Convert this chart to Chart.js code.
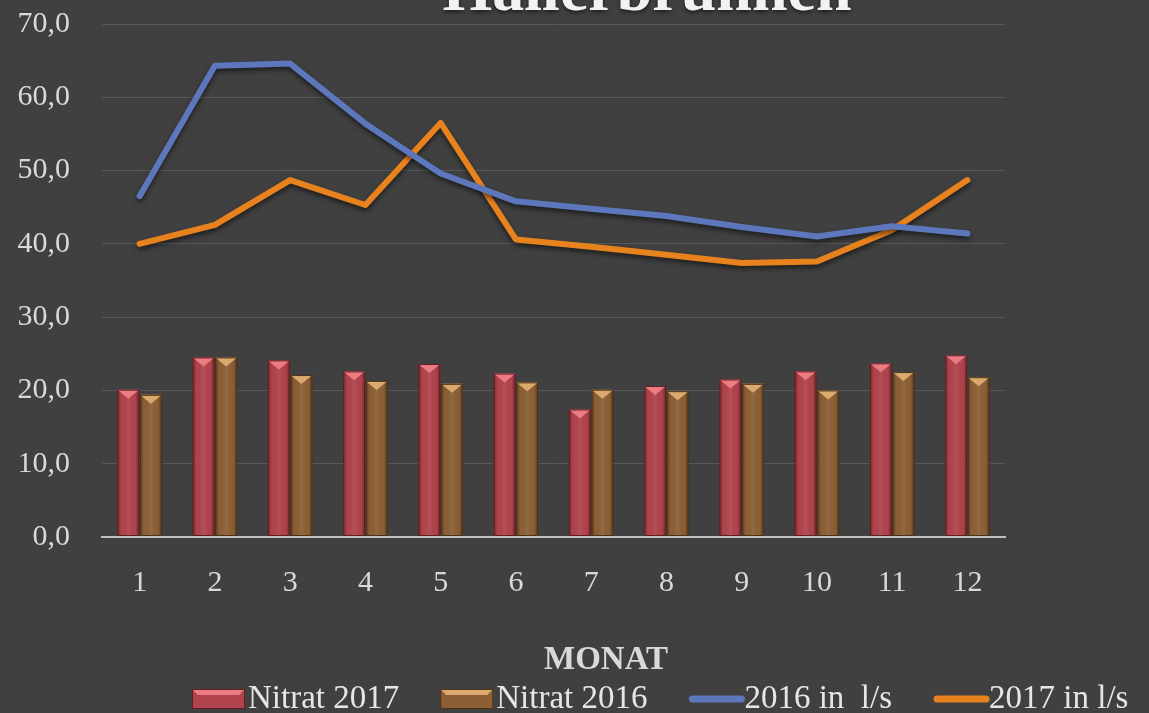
<!DOCTYPE html>
<html>
<head>
<meta charset="utf-8">
<script src="https://cdn.jsdelivr.net/npm/chart.js@4"></script>
<style>
  html, body { margin: 0; padding: 0; background: #404040; }
  #wrap { width: 1149px; height: 713px; }
</style>
</head>
<body>
<div id="wrap"><canvas id="myChart" width="1149" height="713"></canvas></div>
<script>
// Daten
var monate = ['1','2','3','4','5','6','7','8','9','10','11','12'];
var nitrat2017 = [20.1, 24.5, 24.1, 22.6, 23.6, 22.3, 17.4, 20.6, 21.5, 22.6, 23.7, 24.8];
var nitrat2016 = [19.4, 24.5, 22.1, 21.3, 20.9, 21.1, 20.1, 19.9, 20.9, 20.0, 22.5, 21.8];
var schuettung2016 = [46.5, 64.3, 64.6, 56.4, 49.6, 45.8, 44.8, 43.8, 42.3, 41.0, 42.4, 41.4];
var schuettung2017 = [40.0, 42.6, 48.7, 45.3, 56.5, 40.6, 39.6, 38.5, 37.4, 37.6, 41.9, 48.7];
var yTicks = [0, 10, 20, 30, 40, 50, 60, 70];

var serif = "'Liberation Serif', 'DejaVu Serif', serif";
var barLight = ['#ec7b82', '#dcaa6e'];
var barEdge = ['#5e1e22', '#4a3118'];

// Titel oben (angeschnitten wie im Original) und Achsentitel
var textPlugin = {
    id: 'textPlugin',
    afterDraw: function(chart) {
        var ctx = chart.ctx;
        ctx.save();
        ctx.textAlign = 'center';
        ctx.textBaseline = 'alphabetic';
        ctx.shadowColor = 'rgba(0,0,0,0.6)';
        ctx.shadowBlur = 4;
        ctx.shadowOffsetY = 2;
        ctx.font = "bold 64px " + serif;
        ctx.fillStyle = '#f2f2f2';
        ctx.fillText('Hallerbrunnen', 647, 10);
        ctx.shadowColor = 'transparent';
        ctx.font = "bold 33px " + serif;
        ctx.fillStyle = '#d9d9d9';
        ctx.fillText('MONAT', 606, 669);
        ctx.restore();
    }
};

// Legende unten, wie im Original nach rechts verschoben
var legendPlugin = {
    id: 'legendPlugin',
    afterDraw: function(chart) {
        var ctx = chart.ctx;
        ctx.save();
        ctx.font = "33px " + serif;
        ctx.textBaseline = 'alphabetic';
        ctx.textAlign = 'left';
        var x = 192, yMid = 699, base = 708;
        chart.data.datasets.forEach(function(ds, i) {
            if (ds.type === 'line') {
                ctx.strokeStyle = ds.borderColor;
                ctx.lineWidth = 7;
                ctx.lineCap = 'round';
                ctx.beginPath();
                ctx.moveTo(x + 4, yMid);
                ctx.lineTo(x + 53, yMid);
                ctx.stroke();
            } else {
                ctx.fillStyle = ds.backgroundColor;
                ctx.fillRect(x, yMid - 10, 53, 20);
                ctx.fillStyle = barLight[i];
                ctx.beginPath();
                ctx.moveTo(x, yMid - 10);
                ctx.lineTo(x + 53, yMid - 10);
                ctx.lineTo(x + 47, yMid - 4);
                ctx.lineTo(x + 6, yMid - 4);
                ctx.closePath();
                ctx.fill();
                ctx.strokeStyle = barEdge[i];
                ctx.lineWidth = 1;
                ctx.strokeRect(x + 0.5, yMid - 9.5, 52, 19);
            }
            x += 56;
            ctx.fillStyle = '#e6e6e6';
            ctx.fillText(ds.label, x, base);
            x += ctx.measureText(ds.label).width + 41;
        });
        ctx.restore();
    }
};

// Schatten fuer die Linien
var lineShadow = {
    id: 'lineShadow',
    beforeDatasetDraw: function(chart, args) {
        if (args.meta.type !== 'line') return;
        var ctx = chart.ctx;
        ctx.save();
        ctx.shadowColor = 'rgba(0,0,0,0.55)';
        ctx.shadowBlur = 5;
        ctx.shadowOffsetY = 3;
    },
    afterDatasetDraw: function(chart, args) {
        if (args.meta.type !== 'line') return;
        chart.ctx.restore();
    }
};

// Abgeschraegte Saeulenkoepfe
var bevel = {
    id: 'bevel',
    afterDatasetDraw: function(chart, args) {
        if (args.meta.type !== 'bar') return;
        var ctx = chart.ctx;
        var light = barLight[args.index];
        var edge = barEdge[args.index];
        args.meta.data.forEach(function(el) {
            var w = el.width, l = el.x - w / 2, r = el.x + w / 2, t = el.y, b = el.base;
            ctx.save();
            var g = ctx.createLinearGradient(l, 0, r, 0);
            g.addColorStop(0, 'rgba(0,0,0,0.35)');
            g.addColorStop(0.18, 'rgba(0,0,0,0)');
            g.addColorStop(0.5, 'rgba(255,255,255,0.07)');
            g.addColorStop(0.82, 'rgba(0,0,0,0)');
            g.addColorStop(1, 'rgba(0,0,0,0.4)');
            ctx.fillStyle = g;
            ctx.fillRect(l, t, w, b - t);
            ctx.beginPath();
            ctx.moveTo(l, t);
            ctx.lineTo(r, t);
            ctx.lineTo(el.x, t + 9);
            ctx.closePath();
            ctx.fillStyle = light;
            ctx.fill();
            ctx.strokeStyle = edge;
            ctx.lineWidth = 1;
            ctx.strokeRect(l + 0.5, t + 0.5, w - 1, b - t - 1);
            ctx.restore();
        });
    }
};

var ctx = document.getElementById('myChart');
var myChart = new Chart(ctx, {
    type: 'bar',
    data: {
        labels: monate,
        datasets: [{
            label: 'Nitrat 2017',
            data: nitrat2017,
            backgroundColor: '#b0434b',
            borderWidth: 0,
            categoryPercentage: 0.6,
            barPercentage: 0.97
        }, {
            label: 'Nitrat 2016',
            data: nitrat2016,
            backgroundColor: '#8c5f35',
            borderWidth: 0,
            categoryPercentage: 0.6,
            barPercentage: 0.97
        }, {
            type: 'line',
            label: '2016 in  l/s',
            data: schuettung2016,
            borderColor: '#5d77bd',
            backgroundColor: '#5d77bd',
            borderWidth: 6,
            pointRadius: 0,
            tension: 0,
            borderCapStyle: 'round',
            borderJoinStyle: 'round'
        }, {
            type: 'line',
            label: '2017 in l/s',
            data: schuettung2017,
            borderColor: '#e8821e',
            backgroundColor: '#e8821e',
            borderWidth: 6,
            pointRadius: 0,
            tension: 0,
            borderCapStyle: 'round',
            borderJoinStyle: 'round'
        }]
    },
    options: {
        responsive: false,
        animation: false,
        layout: { padding: { top: 24, right: 144, left: 0, bottom: 36 } },
        plugins: {
            tooltip: { enabled: false },
            legend: { display: false }
        },
        scales: {
            x: {
                grid: { display: false, drawTicks: false },
                border: { color: '#bfbfbf', width: 2 },
                ticks: { color: '#d9d9d9', font: { family: serif, size: 30 }, padding: 28 },
                afterFit: function(scale) { scale.height = 140; }
            },
            y: {
                min: 0,
                max: 70,
                afterBuildTicks: function(scale) {
                    scale.ticks = yTicks.map(function(v) { return { value: v }; });
                },
                grid: {
                    color: function(c) { return c.index === 0 ? '#bfbfbf' : '#585858'; },
                    lineWidth: function(c) { return c.index === 0 ? 2 : 1; },
                    drawTicks: false
                },
                border: { display: false },
                ticks: {
                    color: '#d9d9d9',
                    font: { family: serif, size: 30 },
                    padding: 32,
                    callback: function(v) { return v.toFixed(1).replace('.', ','); }
                },
                afterFit: function(scale) {
                    scale.width = 102;
                    scale.paddingTop = 0;
                    scale.paddingBottom = 0;
                }
            }
        }
    },
    plugins: [textPlugin, legendPlugin, lineShadow, bevel]
});
</script>
</body>
</html>
